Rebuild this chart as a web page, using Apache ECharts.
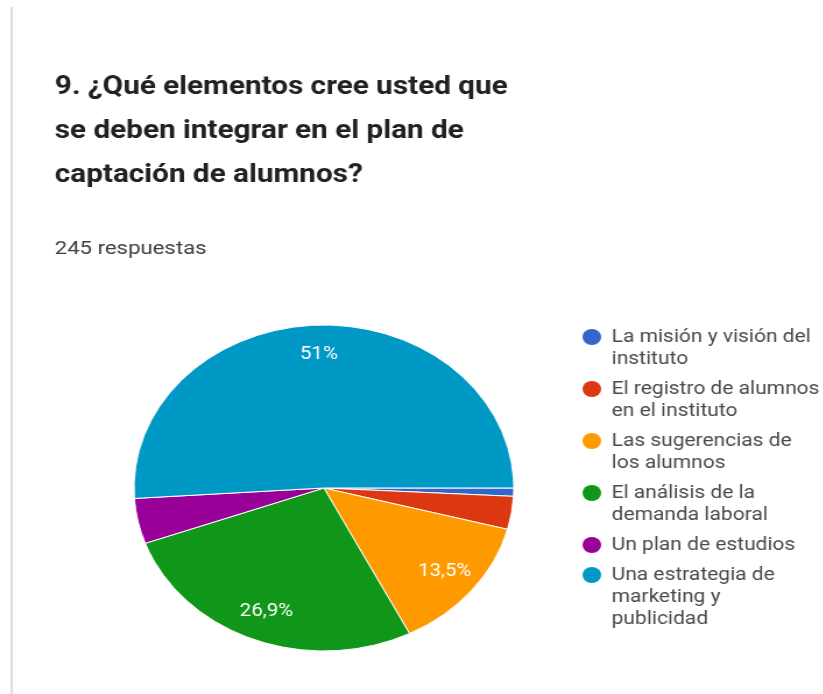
<!DOCTYPE html>
<html>
<head>
<meta charset="utf-8">
<script src="https://cdn.jsdelivr.net/npm/echarts@6/dist/echarts.min.js"></script>
<style>
  html, body { margin: 0; padding: 0; background: #ffffff; overflow: hidden; }
  #frame { width: 823px; height: 694px; overflow: hidden; position: relative; }
  #chart { position: absolute; left: 0; top: 0; height: 694px; transform-origin: 0 0; }
</style>
</head>
<body>
<div id="frame"><div id="chart"></div></div>
<script>
// Survey question and response counts (245 answers in total)
const questionLines = ['9. ¿Qué elementos cree usted que', 'se deben integrar en el plan de', 'captación de alumnos?'];
const totalLabel = '245 respuestas';
const categories = [
  'La misión y visión del instituto',
  'El registro de alumnos en el instituto',
  'Las sugerencias de los alumnos',
  'El análisis de la demanda laboral',
  'Un plan de estudios',
  'Una estrategia de marketing y publicidad'
];
const responses = [2, 8, 33, 66, 11, 125];
const legendLines = [
  ['La misión y visión del', 'instituto'],
  ['El registro de alumnos', 'en el instituto'],
  ['Las sugerencias de', 'los alumnos'],
  ['El análisis de la', 'demanda laboral'],
  ['Un plan de estudios'],
  ['Una estrategia de', 'marketing y', 'publicidad']
];
const sliceColors = ['#3366cc', '#dc3912', '#ff9900', '#109618', '#990099', '#0099c6'];

// The whole card is drawn a little wider than tall
const SX = 1.165;
const W = Math.round(823 / SX);
const chartEl = document.getElementById('chart');
chartEl.style.width = W + 'px';
chartEl.style.transform = 'scaleX(' + SX + ')';

const FONT = 'Roboto, "Noto Sans", sans-serif';
const CENTER = [278, 488];
const R = 163;

const pieData = categories.map((name, i) => ({ name, value: responses[i] }));

// percentage text in Spanish style: one decimal, comma separator, no trailing ",0"
function pctText(p) {
  const v = Math.round(p * 10) / 10;
  return String(v).replace('.', ',') + '%';
}

// one legend block per category so the dot sits on the first text line
const LINE_H = 22, ICON = 16, GAP = 8;
let legendTop = 326;
const legends = categories.map((name, i) => {
  const n = legendLines[i].length;
  const h = LINE_H * n;
  const cy = LINE_H / 2, r = ICON / 2;
  const icon = 'path://M0,0M' + ICON + ',' + h + 'M0,' + cy +
    'A' + r + ',' + r + ',0,1,1,' + ICON + ',' + cy +
    'A' + r + ',' + r + ',0,1,1,0,' + cy + 'Z';
  const lg = {
    orient: 'vertical',
    left: 500,
    top: legendTop,
    padding: 0,
    itemWidth: ICON,
    itemHeight: h,
    selectedMode: false,
    itemStyle: { borderWidth: 0 },
    data: [{ name: name, icon: icon }],
    formatter: () => legendLines[i].join('\n'),
    textStyle: {
      fontFamily: FONT,
      fontSize: 18,
      color: '#4a4a4a',
      lineHeight: LINE_H,
      padding: [0, 0, 0, 4]
    }
  };
  legendTop += h + GAP;
  return lg;
});

const chart = echarts.init(chartEl, null, { renderer: 'canvas' });
chart.setOption({
  animation: false,
  backgroundColor: '#ffffff',
  color: sliceColors,
  title: {
    left: 47,
    top: 66,
    padding: 0,
    itemGap: 40,
    text: questionLines.join('\n'),
    textStyle: {
      fontFamily: FONT,
      fontSize: 25.5,
      fontWeight: 'bold',
      color: '#202124',
      lineHeight: 44
    },
    subtext: totalLabel,
    subtextStyle: {
      fontFamily: FONT,
      fontSize: 19,
      color: '#3c4043',
      lineHeight: 22
    }
  },
  legend: legends,
  graphic: [{
    type: 'rect',
    left: 9,
    top: 7,
    shape: { width: 2, height: 700 },
    style: { fill: '#e0e0e0' },
    silent: true
  }],
  series: [
    {
      name: 'respuestas',
      type: 'pie',
      center: CENTER,
      radius: [0, R],
      startAngle: 0,
      clockwise: true,
      silent: true,
      label: { show: false },
      labelLine: { show: false },
      itemStyle: { borderColor: '#ffffff', borderWidth: 1 },
      data: pieData
    },
    {
      // transparent ring carrying the percentage labels at 0.8 of the radius
      name: 'etiquetas',
      type: 'pie',
      center: CENTER,
      radius: [R * 0.6, R],
      startAngle: 0,
      clockwise: true,
      silent: true,
      legendHoverLink: false,
      itemStyle: { color: 'rgba(0,0,0,0)', borderWidth: 0 },
      labelLine: { show: false },
      label: {
        show: true,
        position: 'inside',
        fontFamily: FONT,
        fontSize: 17.5,
        color: '#ffffff',
        formatter: (p) => p.percent >= 5 ? pctText(p.percent) : ''
      },
      data: pieData
    }
  ]
});
</script>
</body>
</html>
